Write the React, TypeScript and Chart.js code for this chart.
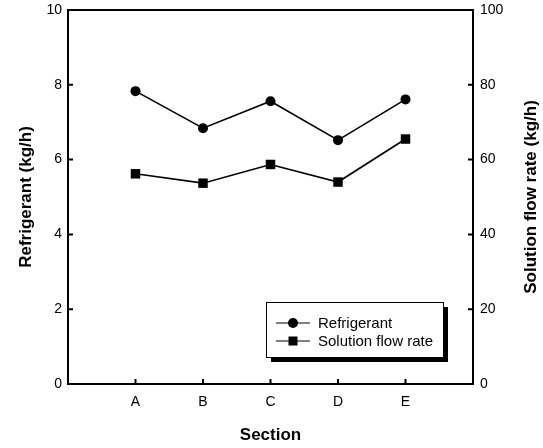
import React, { useEffect, useRef } from 'react';
import { Chart, registerables } from 'chart.js';

Chart.register(...registerables);

const categories = ['A', 'B', 'C', 'D', 'E'];
const refrigerant = [7.83, 6.84, 7.56, 6.52, 7.61];
const solutionFlow = [56.2, 53.7, 58.7, 54.0, 65.5];
const leftTicks = [0, 2, 4, 6, 8, 10];
const rightTicks = [0, 20, 40, 60, 80, 100];
const xTitle = 'Section';
const leftTitle = 'Refrigerant (kg/h)';
const rightTitle = 'Solution flow rate (kg/h)';

const FONT = '"Liberation Sans", Arial, Helvetica, sans-serif';

const framePlugin = {
  id: 'framePlugin',
  afterDraw(chart: any) {
    const { ctx, chartArea } = chart;
    const { left, right, top, bottom } = chartArea;
    ctx.save();
    ctx.strokeStyle = '#000';
    ctx.lineWidth = 2;
    ctx.strokeRect(left, top, right - left, bottom - top);

    // inward ticks
    const tl = 5;
    ctx.beginPath();
    const xs = chart.scales.x;
    xs.ticks.forEach((t: any) => {
      const px = xs.getPixelForValue(t.value);
      ctx.moveTo(px, bottom);
      ctx.lineTo(px, bottom - tl);
    });
    const ys = chart.scales.y;
    ys.ticks.forEach((t: any) => {
      const py = ys.getPixelForValue(t.value);
      ctx.moveTo(left, py);
      ctx.lineTo(left + tl, py);
    });
    const y1 = chart.scales.y1;
    y1.ticks.forEach((t: any) => {
      const py = y1.getPixelForValue(t.value);
      ctx.moveTo(right, py);
      ctx.lineTo(right - tl, py);
    });
    ctx.stroke();

    // titles
    ctx.fillStyle = '#000';
    ctx.font = `bold 17px ${FONT}`;
    ctx.textAlign = 'center';
    ctx.textBaseline = 'middle';
    const cy = (top + bottom) / 2;
    const cx = (left + right) / 2;
    ctx.fillText(xTitle, cx, bottom + 51);
    ctx.save();
    ctx.translate(left - 42, cy);
    ctx.rotate(-Math.PI / 2);
    ctx.fillText(leftTitle, 0, 0);
    ctx.restore();
    ctx.save();
    ctx.translate(right + 58, cy);
    ctx.rotate(-Math.PI / 2);
    ctx.fillText(rightTitle, 0, 0);
    ctx.restore();

    // legend
    const bw = 177;
    const bh = 55;
    const bx = right - 30 - bw;
    const by = bottom - 27 - bh;
    ctx.fillStyle = '#000';
    ctx.fillRect(bx + 5, by + 5, bw, bh);
    ctx.fillStyle = '#fff';
    ctx.fillRect(bx, by, bw, bh);
    ctx.lineWidth = 1;
    ctx.strokeStyle = '#000';
    ctx.strokeRect(bx + 0.5, by + 0.5, bw, bh);
    ctx.font = `15px ${FONT}`;
    ctx.textAlign = 'left';
    chart.data.datasets.forEach((ds: any, i: number) => {
      const ly = by + 21 + i * 18;
      ctx.beginPath();
      ctx.moveTo(bx + 10, ly);
      ctx.lineTo(bx + 44, ly);
      ctx.strokeStyle = '#000';
      ctx.lineWidth = 1;
      ctx.stroke();
      ctx.fillStyle = '#000';
      const mx = bx + 27;
      if (ds.pointStyle === 'rect') {
        ctx.fillRect(mx - 4.5, ly - 4.5, 9, 9);
      } else {
        ctx.beginPath();
        ctx.arc(mx, ly, 5, 0, Math.PI * 2);
        ctx.fill();
      }
      ctx.fillText(ds.label, bx + 52, ly + 1);
    });
    ctx.restore();
  },
};

export default function App() {
  const ref = useRef<HTMLCanvasElement | null>(null);
  useEffect(() => {
    if (!ref.current) return;
    const chart = new Chart(ref.current, {
      type: 'line',
      data: {
        datasets: [
          {
            label: 'Refrigerant',
            data: refrigerant.map((v, i) => ({ x: i + 1, y: v })),
            yAxisID: 'y',
            borderColor: '#000',
            backgroundColor: '#000',
            borderWidth: 1.6,
            pointStyle: 'circle',
            pointRadius: 5,
            pointBackgroundColor: '#000',
            pointBorderColor: '#000',
            pointBorderWidth: 0,
            tension: 0,
          },
          {
            label: 'Solution flow rate',
            data: solutionFlow.map((v, i) => ({ x: i + 1, y: v })),
            yAxisID: 'y1',
            borderColor: '#000',
            backgroundColor: '#000',
            borderWidth: 1.6,
            pointStyle: 'rect',
            pointRadius: 6.7,
            pointBackgroundColor: '#000',
            pointBorderColor: '#000',
            pointBorderWidth: 0,
            tension: 0,
          },
        ],
      },
      options: {
        animation: false,
        responsive: false,
        layout: { padding: { top: 10, left: 0, right: 0, bottom: 0 } },
        plugins: { legend: { display: false }, tooltip: { enabled: false } },
        scales: {
          x: {
            type: 'linear',
            min: 0,
            max: categories.length + 1,
            grid: { display: false, drawTicks: false },
            border: { display: false },
            afterBuildTicks: (scale: any) => {
              scale.ticks = categories.map((_, i) => ({ value: i + 1 }));
            },
            afterFit: (scale: any) => {
              scale.height = 64;
              scale.paddingLeft = 0;
              scale.paddingRight = 0;
            },
            ticks: {
              padding: 10,
              color: '#000',
              font: { family: FONT, size: 14 },
              maxRotation: 0,
              callback: (v: any) => categories[Number(v) - 1] ?? '',
            },
          },
          y: {
            type: 'linear',
            position: 'left',
            min: leftTicks[0],
            max: leftTicks[leftTicks.length - 1],
            grid: { display: false, drawTicks: false },
            border: { display: false },
            afterBuildTicks: (scale: any) => {
              scale.ticks = leftTicks.map((v) => ({ value: v }));
            },
            afterFit: (scale: any) => {
              scale.width = 68;
              scale.paddingTop = 0;
              scale.paddingBottom = 0;
            },
            ticks: { padding: 6, color: '#000', font: { family: FONT, size: 14 } },
          },
          y1: {
            type: 'linear',
            position: 'right',
            min: rightTicks[0],
            max: rightTicks[rightTicks.length - 1],
            grid: { display: false, drawTicks: false },
            border: { display: false },
            afterBuildTicks: (scale: any) => {
              scale.ticks = rightTicks.map((v) => ({ value: v }));
            },
            afterFit: (scale: any) => {
              scale.width = 70;
              scale.paddingTop = 0;
              scale.paddingBottom = 0;
            },
            ticks: { padding: 7, color: '#000', font: { family: FONT, size: 14 } },
          },
        },
      },
      plugins: [framePlugin],
    });
    return () => chart.destroy();
  }, []);
  return (
    <div style={{ position: 'absolute', left: 0, top: 0, width: 543, height: 448, background: '#fff' }}>
      <canvas ref={ref} width={543} height={448} style={{ width: 543, height: 448 }} />
    </div>
  );
}
